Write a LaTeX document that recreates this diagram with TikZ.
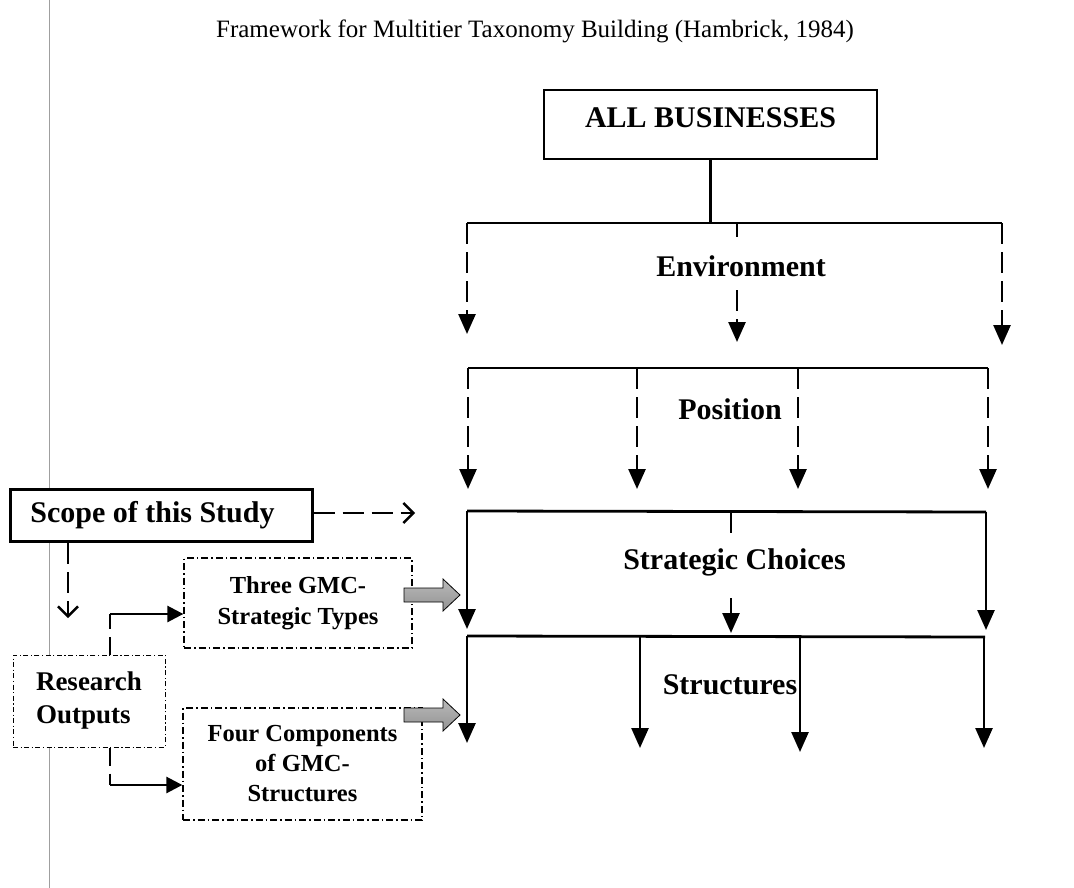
\documentclass[tikz,border=0pt]{standalone}
\usepackage{fontspec}
\setmainfont{Liberation Serif}
\usetikzlibrary{arrows.meta}

\begin{document}
\begin{tikzpicture}[x=1pt,y=-1pt,
  lbl/.style={font=\fontsize{30}{34}\selectfont\bfseries, inner sep=0pt},
  sub/.style={font=\fontsize{24.5}{31}\selectfont\bfseries, align=center, inner sep=0pt},
  bus/.style={line width=2.8pt},
  conn/.style={line width=2.6pt},
  dsh/.style={line width=2.6pt, dash pattern=on 21pt off 8pt},
  tip/.style={-{Triangle[length=20pt,width=17pt]}},
  smalltip/.style={-{Triangle[length=16pt,width=16pt]}},
  opentip/.style={-{Straight Barb[length=10pt,width=20pt,line width=2.4pt]}},
  ddbox/.style={draw, line width=1.3pt, dash pattern=on 7pt off 3pt on 1.5pt off 3pt, fill=white},
  blockarrow/.style={draw=black, line width=0.8pt, top color=gray!55, bottom color=gray!85}
]
\useasboundingbox (0,0) rectangle (1074,888);

% margin rule on the left
\draw[gray!75, line width=1pt] (49,0) -- (49,888);

% title
\node[font=\fontsize{25}{30}\selectfont] (title) at (535,31)
  {Framework for Multitier Taxonomy Building (Hambrick, 1984)};

% top box
\node[draw, line width=1.2pt, minimum width=333pt, minimum height=69pt,
      lbl, text height=20pt, text depth=13pt] (all) at (710.5,124.5) {ALL BUSINESSES};

% tier labels
\node[lbl] (env)    at (741,266) {Environment};
\node[lbl] (pos)    at (730,409) {Position};
\node[lbl] (strat)  at (734.5,562) {Strategic Choices};
\node[lbl] (struct) at (730,685) {Structures};

% ---- Environment tier
\coordinate (e1) at (467,223);
\coordinate (e2) at (737,223);
\coordinate (e3) at (1002,223);
\coordinate (et1) at (467,334);
\coordinate (em) at (737,290);
\coordinate (et2) at (737,342);
\coordinate (et3) at (1002,345);
\draw[bus] (all.south) -- (all.south |- e1);
\draw[bus] (e1) -- (e3);
\draw[dsh,tip] (e1) -- (et1);
\draw[bus] (e2) -- ++(0,14);
\draw[dsh,tip] (em) -- (et2);
\draw[dsh,tip] (e3) -- (et3);

% ---- Position tier
\coordinate (p1) at (468,368);
\coordinate (p4) at (988,368);
\draw[bus] (p1) -- (p4);
\foreach \x in {468,637,798,988}{
  \coordinate (pt) at (\x,489);
  \draw[dsh,tip] (pt |- p1) -- (pt);
}

% ---- Strategic Choices tier
\coordinate (s1) at (467,511);
\coordinate (s2) at (731,511);
\coordinate (s3) at (986,512);
\coordinate (st1) at (467,629);
\coordinate (sm) at (731,598);
\coordinate (st2) at (731,633);
\coordinate (st3) at (986,630);
\draw[bus] (s1) -- (s3);
\draw[conn,tip] (s1) -- (st1);
\draw[conn] (s2) -- ++(0,22);
\draw[conn,tip] (sm) -- (st2);
\draw[conn,tip] (s3) -- (st3);

% ---- Structures tier
\coordinate (r1) at (467,636);
\coordinate (r4) at (985,637);
\draw[bus] (r1) -- (r4);
\foreach \x/\y in {467/743,640/748,800/752,984/748}{
  \coordinate (rt) at (\x,\y);
  \draw[conn,tip] (rt |- r1) -- (rt);
}

% ---- left column
\node[draw, line width=3pt, minimum width=302pt, minimum height=52pt, fill=white,
      lbl] (scope) at (161,515.5) {Scope of this Study\hspace*{17pt}};

\node[ddbox, minimum width=228pt, minimum height=90pt, sub] (three) at (298,603)
  {Three GMC-\\Strategic Types};

\node[ddbox, line width=1pt, dash pattern=on 5pt off 2.5pt on 1.2pt off 2.5pt,
      minimum width=152pt, minimum height=92pt, inner sep=0pt, align=left,
      font=\fontsize{27}{33}\selectfont\bfseries] (research) at (89,701)
  {Research\\Outputs};

\node[ddbox, minimum width=239pt, minimum height=112pt, sub, font=\fontsize{24.5}{30}\selectfont\bfseries]
  (four) at (302.5,764) {Four Components\\of GMC-\\Structures};

% scope connectors
\coordinate (scR) at (415,513);
\coordinate (scD) at (68,618);
\draw[dsh,opentip] (scope.east |- scR) -- (scR);
\draw[dsh,opentip] (scope.south -| scD) -- (scD);

% research output connectors
\coordinate (ro1) at (110,614);
\coordinate (ro2) at (110,785);
\draw[dsh, dash pattern=on 18pt off 8pt] (research.north -| ro1) -- (ro1);
\draw[conn,smalltip] (ro1) -- (three.west |- ro1);
\draw[dsh, dash pattern=on 18pt off 8pt] (research.south -| ro2) -- (ro2);
\draw[conn,smalltip] (ro2) -- (four.west |- ro2);

% grey block arrows into the tiers
\foreach \c in {595,715}{
  \draw[blockarrow] (404,\c-7) -- (443,\c-7) -- (443,\c-16) -- (460,\c)
    -- (443,\c+16) -- (443,\c+7) -- (404,\c+7) -- cycle;
}
\end{tikzpicture}
\end{document}
